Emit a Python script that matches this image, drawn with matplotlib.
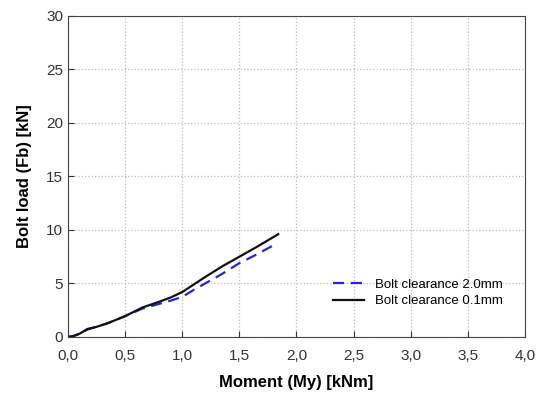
import numpy as np
import matplotlib.pyplot as plt
from matplotlib.ticker import FuncFormatter

plt.rcParams['font.family'] = ['Liberation Sans', 'DejaVu Sans']

# Bolt clearance 0.1mm (solid black)
m_01 = [0.0, 0.05, 0.1, 0.17, 0.25, 0.35, 0.5, 0.65, 0.8, 0.9, 1.0, 1.1, 1.2, 1.35, 1.5, 1.65, 1.84]
f_01 = [0.0, 0.1, 0.3, 0.75, 0.95, 1.3, 1.95, 2.75, 3.3, 3.7, 4.2, 4.9, 5.6, 6.6, 7.5, 8.4, 9.6]

# Bolt clearance 2.0mm (dashed blue)
m_20 = [0.0, 0.05, 0.1, 0.17, 0.25, 0.35, 0.5, 0.65, 0.8, 0.9, 1.0, 1.1, 1.2, 1.35, 1.5, 1.65, 1.83]
f_20 = [0.0, 0.1, 0.3, 0.7, 0.95, 1.3, 1.95, 2.65, 3.1, 3.4, 3.75, 4.4, 5.0, 5.9, 6.9, 7.7, 8.75]

fig = plt.figure(figsize=(5.49, 3.96), dpi=100)
ax = fig.add_axes([0.124, 0.149, 0.832, 0.811])

ax.plot(m_20, f_20, color='#2626d6', linestyle='--', dashes=(5, 3), lw=1.6, label='Bolt clearance 2.0mm')
ax.plot(m_01, f_01, color='#111111', lw=1.6, label='Bolt clearance 0.1mm')

ax.set_xlim(0, 4)
ax.set_ylim(0, 30)
ax.set_xticks(np.arange(0, 4.01, 0.5))
ax.set_yticks(np.arange(0, 31, 5))
ax.xaxis.set_major_formatter(FuncFormatter(lambda v, p: f'{v:.1f}'.replace('.', ',')))
ax.tick_params(direction='in', labelsize=11, colors='#333333', length=4)
ax.tick_params(axis='x', pad=9)
ax.grid(True, linestyle=':', color='#bbbbbb', lw=0.9)
for s in ax.spines.values():
    s.set_color('#444444')

ax.set_xlabel('Moment (My) [kNm]', fontsize=12, fontweight='bold', labelpad=8)
ax.set_ylabel('Bolt load (Fb) [kN]', fontsize=12, fontweight='bold', labelpad=10)

ax.legend(loc='lower left', bbox_to_anchor=(0.553, 0.056), frameon=False, fontsize=9.5,
          handlelength=2.4, labelspacing=0.3)

fig.savefig('out.png', dpi=100)
